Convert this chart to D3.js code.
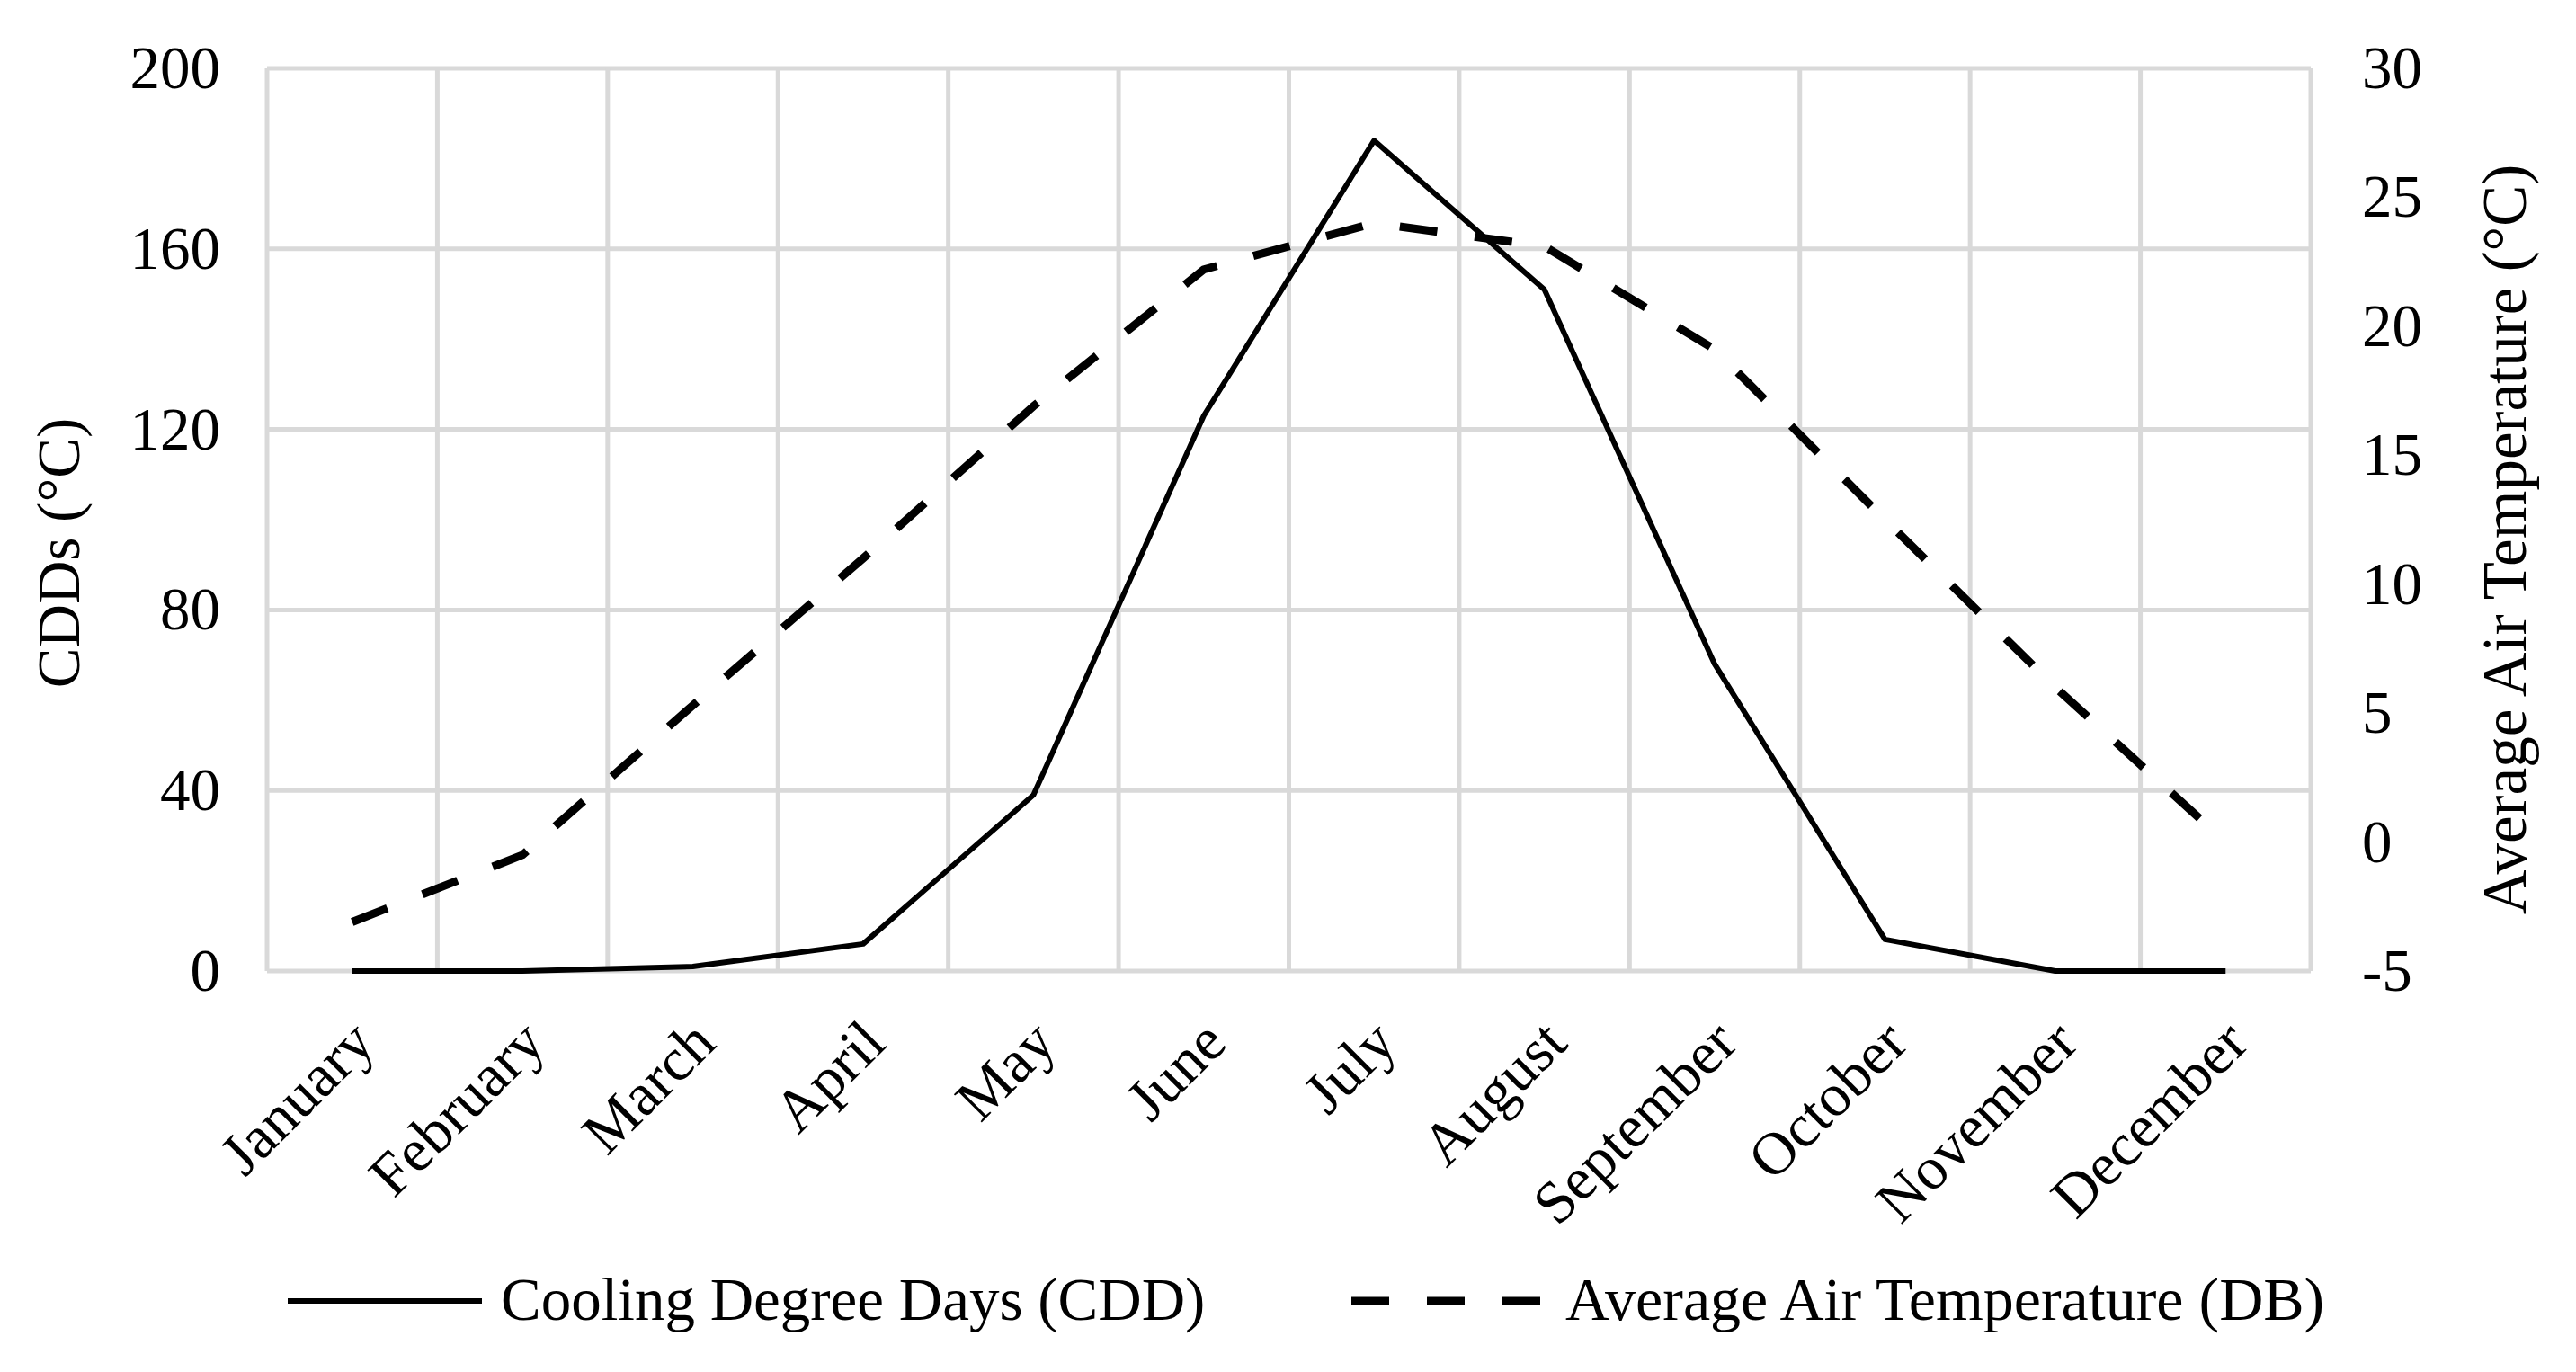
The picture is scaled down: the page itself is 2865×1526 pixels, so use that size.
<!DOCTYPE html>
<html>
<head>
<meta charset="utf-8">
<script src="https://cdn.jsdelivr.net/npm/d3@7/dist/d3.min.js"></script>
<style>
  html, body { margin: 0; padding: 0; background: #ffffff; }
  svg { display: block; }
  text { font-family: "Liberation Serif", "Times New Roman", serif; fill: #000; }
</style>
</head>
<body>
<svg id="chart" width="2865" height="1526"></svg>
<script>
// ---- data ----
const months = ["January","February","March","April","May","June","July","August","September","October","November","December"];
const cdd = [0, 0, 1, 6, 39, 123, 184, 151, 68, 7, 0, 0];
const avgTemp = [-3.1, -0.5, 5.3, 11.0, 16.9, 22.2, 24.0, 23.1, 19.1, 12.5, 6.0, 0.0];
const leftTicks = [0, 40, 80, 120, 160, 200];
const rightTicks = [-5, 0, 5, 10, 15, 20, 25, 30];
const leftTitle = "CDDs (°C)";
const rightTitle = "Average Air Temperature (°C)";
const legendLabels = ["Cooling Degree Days (CDD)", "Average Air Temperature (DB)"];

// ---- layout ----
const W = 2865, H = 1526;
const L = 297, R = 2570, T = 76, B = 1080;
const FS = 67;
const gridColor = "#d9d9d9";

const svg = d3.select("#chart");
svg.append("rect").attr("width", W).attr("height", H).attr("fill", "#fff");

const x = d3.scaleBand().domain(months).range([L, R]).paddingInner(0).paddingOuter(0);
const cx = m => x(m) + x.bandwidth() / 2;
const yL = d3.scaleLinear().domain([0, 200]).range([B, T]);
const yR = d3.scaleLinear().domain([-5, 30]).range([B, T]);

// ---- gridlines ----
const grid = svg.append("g");
grid.selectAll("line.h").data(leftTicks).join("line")
  .attr("x1", L).attr("x2", R)
  .attr("y1", d => yL(d)).attr("y2", d => yL(d))
  .attr("stroke", gridColor).attr("stroke-width", 5);
const vBounds = months.map(m => x(m)).concat([R]);
grid.selectAll("line.v").data(vBounds).join("line")
  .attr("x1", d => d).attr("x2", d => d)
  .attr("y1", T).attr("y2", B)
  .attr("stroke", gridColor).attr("stroke-width", 5);

// ---- axes (labels only) ----
const axL = svg.append("g").attr("transform", `translate(${L},0)`)
  .call(d3.axisLeft(yL).tickValues(leftTicks).tickSize(0).tickPadding(52).tickFormat(d => String(d)));
const axR = svg.append("g").attr("transform", `translate(${R},0)`)
  .call(d3.axisRight(yR).tickValues(rightTicks).tickSize(0).tickPadding(57).tickFormat(d => String(d)));
[axL, axR].forEach(a => {
  a.select(".domain").remove();
  a.selectAll("text").attr("font-size", FS).attr("font-family", "Liberation Serif, serif").attr("fill", "#000");
});

// month labels rotated
svg.append("g").selectAll("text").data(months).join("text")
  .attr("transform", d => `translate(${cx(d) + 28},${1163}) rotate(-45)`)
  .attr("text-anchor", "end")
  .attr("font-size", FS)
  .text(d => d);

// axis titles
svg.append("text")
  .attr("transform", `translate(88,615) rotate(-90)`)
  .attr("text-anchor", "middle").attr("font-size", 67)
  .text(leftTitle);
svg.append("text")
  .attr("transform", `translate(2809,600) rotate(-90)`)
  .attr("text-anchor", "middle").attr("font-size", 69)
  .text(rightTitle);

// ---- lines ----
const lineCDD = d3.line().x((d, i) => cx(months[i])).y(d => yL(d));
const lineT = d3.line().x((d, i) => cx(months[i])).y(d => yR(d));

svg.append("path").datum(avgTemp)
  .attr("d", lineT).attr("fill", "none")
  .attr("stroke", "#000").attr("stroke-width", 9)
  .attr("stroke-dasharray", "42,42")
  .attr("stroke-linejoin", "round");

svg.append("path").datum(cdd)
  .attr("d", lineCDD).attr("fill", "none")
  .attr("stroke", "#000").attr("stroke-width", 6)
  .attr("stroke-linejoin", "round");

// ---- legend ----
const lg = svg.append("g");
lg.append("line").attr("x1", 320).attr("x2", 536).attr("y1", 1447).attr("y2", 1447)
  .attr("stroke", "#000").attr("stroke-width", 6);
lg.append("text").attr("x", 557).attr("y", 1468).attr("font-size", 67).text(legendLabels[0]);
lg.append("line").attr("x1", 1503).attr("x2", 1713).attr("y1", 1447).attr("y2", 1447)
  .attr("stroke", "#000").attr("stroke-width", 9).attr("stroke-dasharray", "42,42");
lg.append("text").attr("x", 1741).attr("y", 1468).attr("font-size", 68).text(legendLabels[1]);
</script>
</body>
</html>
